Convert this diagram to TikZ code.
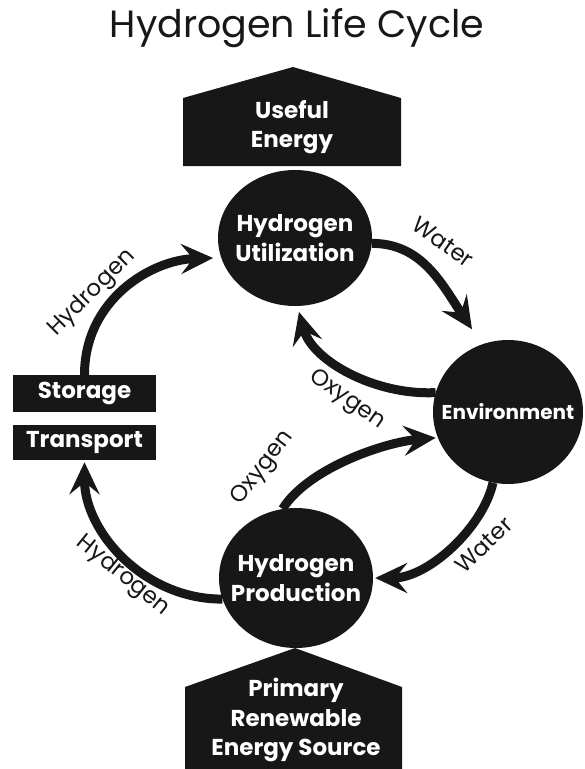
\documentclass[tikz,border=0pt]{standalone}
\usepackage{fontspec}
\setmainfont{Poppins}
\definecolor{ink}{rgb}{0.09,0.09,0.09}
\usetikzlibrary{arrows.meta,shapes.geometric}

\begin{document}
\begin{tikzpicture}[x=1pt,y=-1pt]
      \tikzstyle{blob} = [ellipse,fill=ink,inner sep=0pt]
      \tikzstyle{slab} = [rectangle,fill=ink,minimum width=143pt,inner sep=0pt,text=white,font=\fontsize{23}{26}\selectfont\bfseries]
      \tikzstyle{inword} = [text=white,align=center,font=\fontsize{23}{29.5}\selectfont\bfseries]
      \tikzstyle{tag} = [text=ink,font=\fontsize{23}{25}\selectfont]
      \tikzstyle{carrow} = [line width=9pt,draw=ink,-{Stealth[length=32pt,width=30pt,inset=12pt]}]
      \useasboundingbox (0,0) rectangle (585,769);
      \node[text=ink,font=\fontsize{38}{44}\selectfont] (title) at (297,28) {Hydrogen Life Cycle};
      \fill[ink] (183,166) -- (183,98) -- (293,67) -- (401,98) -- (401,166) -- cycle;
      \fill[ink] (185,769) -- (185,687) -- (295,648) -- (402,687) -- (402,769) -- cycle;
      \node[inword] (useful) at (292,127) {Useful\\Energy};
      \node[inword] (source) at (296,720) {Primary\\Renewable\\Energy Source};
      \node[blob,minimum width=154pt,minimum height=136pt,label={[inword]center:Hydrogen\\Utilization}] (util) at (295,238) {};
      \node[blob,minimum width=150pt,minimum height=144pt,label={[inword,font=\fontsize{20}{24}\selectfont\bfseries]center:Environment}] (env) at (508,412) {};
      \node[blob,minimum width=154pt,minimum height=140pt,label={[inword]center:Hydrogen\\Production}] (prod) at (296,578) {};
      \node[slab,minimum height=37pt] (stor) at (84.5,393.5) {Storage};
      \node[slab,minimum height=35pt] (trans) at (84.5,442.5) {Transport};
      \draw[carrow,shorten >=8pt] (stor.north) .. controls +(0,-75) and +(-70,2) .. (util.195);
      \draw[carrow,shorten >=18pt] (util.356) .. controls +(50,0) and +(-40,-60) .. (env.111);
      \draw[carrow,shorten >=6pt] (env.165) .. controls +(-60,3) and +(15,55) .. (util.272);
      \draw[carrow,shorten >=2pt] (prod.101) .. controls +(25,-40) and +(-55,5) .. (env.200);
      \draw[carrow,shorten >=2pt] (env.258) .. controls +(-10,45) and +(55,0) .. (prod.0);
      \draw[carrow,shorten >=2pt] (prod.196) .. controls +(-80,0) and +(0,70) .. (trans.south);
      \node[tag,rotate=45] (h1) at (92,293) {Hydrogen};
      \node[tag,rotate=-35] (w1) at (443,242) {Water};
      \node[tag,rotate=-35] (o1) at (347,400) {Oxygen};
      \node[tag,rotate=53] (o2) at (263,468) {Oxygen};
      \node[tag,rotate=44] (w2) at (484,545) {Water};
      \node[tag,rotate=-39] (h2) at (123,576) {Hydrogen};
    \end{tikzpicture}
\end{document}
